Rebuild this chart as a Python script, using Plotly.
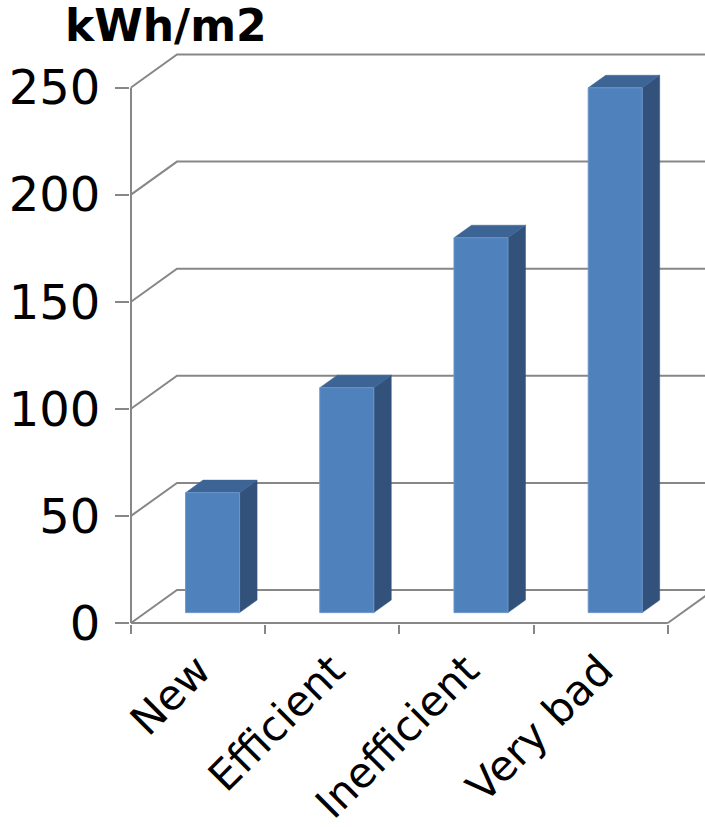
import plotly.graph_objects as go

categories = ["New", "Efficient", "Inefficient", "Very bad"]
values = [56, 105, 175, 245]
y_ticks = [0, 50, 100, 150, 200, 250]
unit_label = "kWh/m2"

# pseudo-3D geometry (in data units)
W, H = 705, 827
px_per_x = 134.2
px_per_y = 2.142
x0_px, y0_px = 131, 623
depth_dx = 46 / px_per_x       # back wall offset in x units
depth_dy = 33 / px_per_y       # back wall offset in y units
bar_w = 54 / px_per_x
bar_front = 0.315               # depth fraction of bar front face
bar_depth = 0.38                # depth fraction of bar thickness

grid_col = "#878787"
front_col = "#4f81bd"
side_col = "#32527b"
top_col = "#3c6494"

fig = go.Figure()

def line(xs, ys, col=grid_col, w=2):
    fig.add_trace(go.Scatter(x=xs, y=ys, mode="lines", line=dict(color=col, width=w),
                             hoverinfo="skip", showlegend=False))

n = len(categories)
# back wall gridlines and left wall diagonals
for v in y_ticks:
    line([0, depth_dx, n + depth_dx + 1], [v, v + depth_dy, v + depth_dy])
# floor right edge
line([n, n + depth_dx], [0, depth_dy])
# front axis lines
line([0, 0], [0, y_ticks[-1]])
line([0, n], [0, 0])

# bars
for i, (c, v) in enumerate(zip(categories, values)):
    sx = bar_front * depth_dx
    sy = bar_front * depth_dy
    bx = bar_depth * depth_dx
    by = bar_depth * depth_dy
    xl = i + 0.5 - bar_w / 2 + sx
    xr = i + 0.5 + bar_w / 2 + sx
    yb = sy
    yt = sy + v
    # side face
    fig.add_trace(go.Scatter(x=[xr, xr + bx, xr + bx, xr, xr], y=[yb, yb + by, yt + by, yt, yb],
                             fill="toself", fillcolor=side_col, mode="lines",
                             line=dict(color=side_col, width=0.5), hoverinfo="skip", showlegend=False))
    # top face
    fig.add_trace(go.Scatter(x=[xl, xr, xr + bx, xl + bx, xl], y=[yt, yt, yt + by, yt + by, yt],
                             fill="toself", fillcolor=top_col, mode="lines",
                             line=dict(color=top_col, width=0.5), hoverinfo="skip", showlegend=False))
    # front face
    fig.add_trace(go.Scatter(x=[xl, xr, xr, xl, xl], y=[yb, yb, yt, yt, yb],
                             fill="toself", fillcolor=front_col, mode="lines",
                             line=dict(color="#6a96c9", width=1), hoverinfo="skip",
                             showlegend=False, name=c))

l_px, t_px, bottom_px = 130, 40, 624
fig.update_layout(
    width=W, height=H,
    margin=dict(l=l_px, r=0, t=t_px, b=H - bottom_px, autoexpand=False),
    plot_bgcolor="white", paper_bgcolor="white",
    xaxis=dict(range=[(l_px - x0_px) / px_per_x, (W - x0_px) / px_per_x],
               tickvals=[i + 0.5 for i in range(n)], ticktext=categories,
               tickangle=-45, ticks="", showgrid=False, zeroline=False, showline=False,
               ticklabelstandoff=12, automargin=False,
               tickfont=dict(family="DejaVu Sans", size=42, color="black"),
               minor=dict(tickvals=list(range(n + 1)), ticks="outside", ticklen=9,
                          tickwidth=2, tickcolor=grid_col, showgrid=False),
               fixedrange=True),
    yaxis=dict(range=[(y0_px - bottom_px) / px_per_y, (y0_px - t_px) / px_per_y],
               tickvals=y_ticks, ticks="outside", ticklen=14, tickwidth=2, tickcolor=grid_col,
               showgrid=False, zeroline=False, showline=False,
               ticklabelstandoff=5, automargin=False,
               tickfont=dict(family="DejaVu Sans", size=48, color="black"),
               fixedrange=True),
    annotations=[dict(text="<b>" + unit_label + "</b>", xref="paper", yref="paper",
                      x=(63 - l_px) / (W - l_px), y=1 + (t_px - 25) / (bottom_px - t_px),
                      xanchor="left", yanchor="middle", showarrow=False,
                      font=dict(family="DejaVu Sans", size=44, color="black"))],
)

fig.write_html("out.html")
